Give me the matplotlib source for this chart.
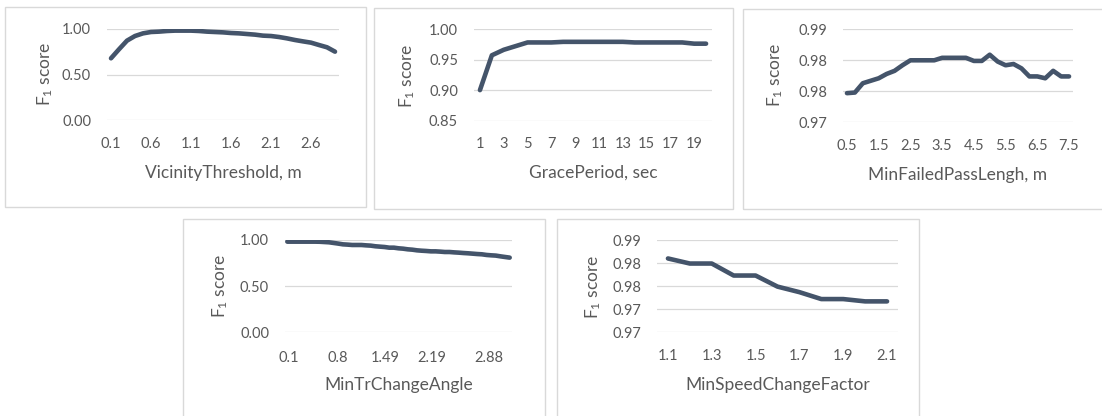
import matplotlib
matplotlib.use("Agg")
import matplotlib.pyplot as plt
from matplotlib.patches import Rectangle
import numpy as np

# ---------------- data ----------------
vicinity_labels = ["0.1", "0.6", "1.1", "1.6", "2.1", "2.6"]
vicinity_f1 = [0.678, 0.777, 0.872, 0.923, 0.952, 0.967, 0.971, 0.978, 0.982, 0.982,
               0.982, 0.978, 0.971, 0.967, 0.963, 0.956, 0.952, 0.945, 0.938, 0.927,
               0.923, 0.912, 0.897, 0.879, 0.864, 0.850, 0.824, 0.799, 0.751]

grace_labels = ["1", "3", "5", "7", "9", "11", "13", "15", "17", "19"]
grace_f1 = [0.900, 0.957, 0.966, 0.972, 0.978, 0.978, 0.978, 0.979, 0.979, 0.979,
            0.979, 0.979, 0.979, 0.978, 0.978, 0.978, 0.978, 0.978, 0.976, 0.976]

failed_labels = ["0.5", "1.5", "2.5", "3.5", "4.5", "5.5", "6.5", "7.5"]
failed_f1 = [0.9747, 0.9748, 0.9763, 0.9767, 0.9771, 0.9778, 0.9783, 0.9792, 0.9800,
             0.9800, 0.9800, 0.9800, 0.9804, 0.9804, 0.9804, 0.9804, 0.9799, 0.9799,
             0.9809, 0.9798, 0.9792, 0.9794, 0.9787, 0.9774, 0.9774, 0.9771, 0.9783,
             0.9774, 0.9774]

angle_labels = ["0.1", "0.8", "1.49", "2.19", "2.88"]
angle_label_pos = [0.4, 10.8, 21.1, 31.2, 43.6]
angle_f1 = [0.982, 0.982, 0.982, 0.982, 0.982, 0.982, 0.982, 0.981, 0.978, 0.975,
            0.968, 0.961, 0.953, 0.950, 0.946, 0.946, 0.946, 0.942, 0.939, 0.932,
            0.928, 0.924, 0.917, 0.917, 0.910, 0.906, 0.899, 0.895, 0.888, 0.884,
            0.881, 0.877, 0.877, 0.874, 0.870, 0.870, 0.866, 0.863, 0.859, 0.856,
            0.852, 0.848, 0.845, 0.838, 0.834, 0.831, 0.823, 0.816, 0.809]

speed_labels = ["1.1", "1.3", "1.5", "1.7", "1.9", "2.1"]
speed_f1 = [0.9810, 0.9799, 0.9799, 0.9773, 0.9773, 0.9749, 0.9737, 0.9722, 0.9722,
            0.9717, 0.9717]

# ---------------- style ----------------
W, H = 1102, 416
plt.rcParams['font.family'] = ['Lato', 'DejaVu Sans']
plt.rcParams['mathtext.default'] = 'regular'
TEXT = '#595959'
LINE = '#44546A'
GRID = '#D9D9D9'
PT = 100 / 72.0
TICK_FS = 10.5
TITLE_FS = 12.5

fig = plt.figure(figsize=(W / 100, H / 100), dpi=100)


def panel(box, axpx, y, ylim, yticks, yticklabels, xtick_pos, xlabels,
          title, title_y, ylab_x, ylab_y, xtick_y):
    bx0, by0, bx1, by1 = box
    fig.patches.append(Rectangle((bx0 / W, 1 - by1 / H), (bx1 - bx0) / W, (by1 - by0) / H,
                                 transform=fig.transFigure, fill=False,
                                 edgecolor=GRID, lw=1.0))
    x0, y0, x1, y1 = axpx
    ax = fig.add_axes([x0 / W, 1 - y1 / H, (x1 - x0) / W, (y1 - y0) / H])
    x = np.arange(len(y))
    ax.plot(x, y, color=LINE, lw=3.3, solid_capstyle='round', solid_joinstyle='round')
    ax.set_xlim(-0.5, len(y) - 0.5)
    ax.set_ylim(*ylim)
    ax.set_yticks(yticks)
    ax.set_yticklabels(yticklabels)
    if np.isscalar(xtick_pos):
        xtick_pos = np.arange(0, len(y), xtick_pos)[:len(xlabels)]
    ax.set_xticks(xtick_pos)
    ax.set_xticklabels(xlabels)
    ax.grid(axis='y', color=GRID, lw=0.9)
    ax.set_axisbelow(True)
    for s in ax.spines.values():
        s.set_visible(False)
    ax.tick_params(axis='both', length=0, colors=TEXT, labelsize=TICK_FS)
    ax.tick_params(axis='y', pad=11.5)
    ax.tick_params(axis='x', pad=(xtick_y - y1 - 7.5) / PT)
    ax.patch.set_alpha(0)
    fig.text(((x0 + x1) / 2) / W, 1 - title_y / H, title, ha='center', va='center',
             color=TEXT, fontsize=TITLE_FS)
    fig.text(ylab_x / W, 1 - ylab_y / H, 'F$_1$ score', ha='center', va='center',
             rotation=90, color=TEXT, fontsize=TITLE_FS)
    return ax


panel((5, 7, 366, 207), (107, 29, 339, 120), vicinity_f1, (0, 1.0),
      [0, 0.5, 1.0], ["0.00", "0.50", "1.00"], 5, vicinity_labels,
      "VicinityThreshold, m", 173, 45, 74, 145)

panel((374, 8, 733, 209), (474, 29, 712, 120.7), grace_f1, (0.85, 1.0),
      [0.85, 0.90, 0.95, 1.0], ["0.85", "0.90", "0.95", "1.00"], 2, grace_labels,
      "GracePeriod, sec", 173, 407, 76, 145)

panel((743, 9, 1110, 209), (843, 29.3, 1073, 122.3), failed_f1, (0.97, 0.985),
      [0.97, 0.975, 0.98, 0.985], ["0.97", "0.98", "0.98", "0.99"], 4, failed_labels,
      "MinFailedPassLengh, m", 175, 775, 75, 147)

panel((183, 219, 545, 425), (285, 240, 512, 332.3), angle_f1, (0, 1.0),
      [0, 0.5, 1.0], ["0.00", "0.50", "1.00"], angle_label_pos, angle_labels,
      "MinTrChangeAngle", 385, 220, 286, 358)

panel((557, 219, 919, 425), (657, 240, 898, 332.3), speed_f1, (0.965, 0.985),
      [0.965, 0.97, 0.975, 0.98, 0.985], ["0.97", "0.97", "0.98", "0.98", "0.99"], 2,
      speed_labels, "MinSpeedChangeFactor", 385, 593, 287, 357)

fig.savefig("out.png", dpi=100, facecolor='white')
